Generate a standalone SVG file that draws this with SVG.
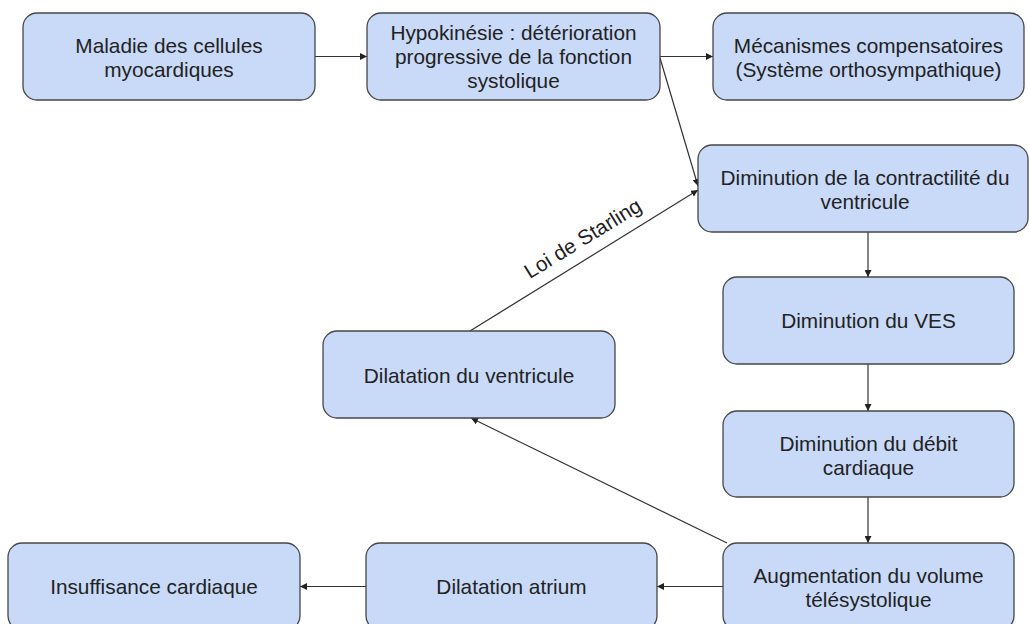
<svg xmlns="http://www.w3.org/2000/svg" width="1029" height="624" viewBox="0 0 1029 624">
<style>
  .box { fill: #c9daf8; stroke: #474747; stroke-width: 1.3; }
  .t { font-family: "Liberation Sans", Arial, sans-serif; font-size: 20.8px; fill: #222; text-anchor: middle; }
  .c { fill: none; stroke: #333; stroke-width: 1.2; marker-end: url(#ah); }
</style>
<defs>
  <marker id="ah" markerUnits="userSpaceOnUse" markerWidth="8" markerHeight="7" refX="7" refY="3.5" orient="auto">
    <path d="M0,0 L7,3.5 L0,7 z" fill="#222"/>
  </marker>
</defs>
<rect width="1029" height="624" fill="#ffffff"/>
<g id="connectors">
  <path class="c" d="M315,56.5 H367"/>
  <path class="c" d="M660,56.5 H713"/>
  <path class="c" d="M660,58 L698,186"/>
  <path class="c" d="M868,232 V277"/>
  <path class="c" d="M868,364 V411"/>
  <path class="c" d="M868,497 V543"/>
  <path class="c" d="M723,586.5 H657"/>
  <path class="c" d="M366,586.5 H300"/>
  <path class="c" d="M727,543 L471,418"/>
  <path class="c" d="M470,331 L698,190"/>
  <text class="t" transform="translate(586.5,244.5) rotate(-31.5)">Loi de Starling</text>
</g>
<g id="n1">
  <rect class="box" x="23" y="13" width="292" height="87" rx="14"/>
  <text class="t" x="169" y="53">Maladie des cellules</text>
  <text class="t" x="169" y="77">myocardiques</text>
</g>
<g id="n2">
  <rect class="box" x="367" y="13" width="293" height="87" rx="14"/>
  <text class="t" x="513.5" y="39.5">Hypokinésie : détérioration</text>
  <text class="t" x="513.5" y="63.5">progressive de la fonction</text>
  <text class="t" x="513.5" y="87.5">systolique</text>
</g>
<g id="n3">
  <rect class="box" x="713" y="13" width="311" height="87" rx="14"/>
  <text class="t" x="868.5" y="53">Mécanismes compensatoires</text>
  <text class="t" x="868.5" y="77">(Système orthosympathique)</text>
</g>
<g id="n4">
  <rect class="box" x="698" y="145" width="330" height="87" rx="14"/>
  <text class="t" x="865" y="185">Diminution de la contractilité du</text>
  <text class="t" x="865" y="209">ventricule</text>
</g>
<g id="n5">
  <rect class="box" x="723" y="277" width="291" height="87" rx="14"/>
  <text class="t" x="868.5" y="328">Diminution du VES</text>
</g>
<g id="n6">
  <rect class="box" x="723" y="411" width="291" height="86" rx="14"/>
  <text class="t" x="868.5" y="450.5">Diminution du débit</text>
  <text class="t" x="868.5" y="474.5">cardiaque</text>
</g>
<g id="n7">
  <rect class="box" x="723" y="543" width="291" height="87" rx="14"/>
  <text class="t" x="868.5" y="583">Augmentation du volume</text>
  <text class="t" x="868.5" y="607">télésystolique</text>
</g>
<g id="n8">
  <rect class="box" x="323" y="331" width="292" height="87" rx="14"/>
  <text class="t" x="469" y="382.5">Dilatation du ventricule</text>
</g>
<g id="n9">
  <rect class="box" x="366" y="543" width="291" height="87" rx="14"/>
  <text class="t" x="511.5" y="594">Dilatation atrium</text>
</g>
<g id="n10">
  <rect class="box" x="8" y="543" width="292" height="87" rx="14"/>
  <text class="t" x="154" y="594">Insuffisance cardiaque</text>
</g>
</svg>
